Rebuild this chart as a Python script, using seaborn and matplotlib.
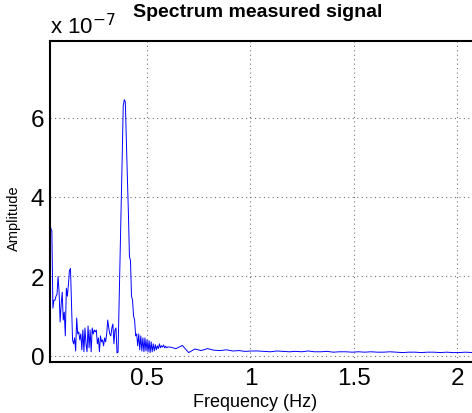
import numpy as np
import matplotlib
matplotlib.use("Agg")
import matplotlib.pyplot as plt
import seaborn as sns

# spectrum, low-frequency part (0.030 .. 0.600 Hz, step 0.005), amplitude in 1e-7
freq_low = np.round(np.arange(0.030, 0.6001, 0.005), 3)
amp_low = [
    3.40, 3.20, 3.15, 1.20, 1.40, 1.40, 1.50, 1.55, 2.00, 1.60,
    0.85, 1.30, 1.60, 0.90, 1.10, 0.50, 1.70, 1.50, 1.80, 2.15,
    2.20, 1.30, 0.40, 0.30, 0.45, 0.12, 0.95, 0.55, 0.60, 0.40,
    0.55, 0.15, 0.65, 0.10, 0.70, 0.30, 0.10, 0.75, 0.20, 0.65,
    0.10, 0.70, 0.55, 0.65, 0.60, 0.65, 0.30, 0.45, 0.10, 0.50,
    0.35, 0.40, 0.25, 0.45, 0.35, 0.55, 0.90, 0.70, 0.55, 0.50,
    0.70, 0.80, 0.30, 0.65, 0.70, 0.07, 0.09, 1.30, 2.50, 3.60,
    5.00, 6.30, 6.45, 6.40, 5.40, 4.50, 3.60, 2.50, 2.40, 1.50,
    1.40, 1.00, 0.90, 0.50, 0.55, 0.25, 0.55, 0.15, 0.50, 0.12,
    0.45, 0.10, 0.45, 0.12, 0.40, 0.10, 0.38, 0.08, 0.35, 0.10,
    0.30, 0.12, 0.28, 0.15, 0.25, 0.18, 0.30, 0.20, 0.25, 0.22,
    0.27, 0.20, 0.24, 0.20, 0.22,
]

# tail (0.61 .. 2.10 Hz)
freq_high = np.linspace(0.61, 2.10, 50)
amp_high = [
    0.22, 0.18, 0.26, 0.08, 0.17, 0.13, 0.18, 0.14, 0.13, 0.15,
    0.12, 0.13, 0.11, 0.12, 0.12, 0.11, 0.10, 0.12, 0.11, 0.10,
    0.11, 0.10, 0.12, 0.10, 0.10, 0.11, 0.09, 0.10, 0.10, 0.09,
    0.10, 0.09, 0.10, 0.09, 0.09, 0.10, 0.09, 0.08, 0.09, 0.09,
    0.08, 0.09, 0.09, 0.08, 0.09, 0.08, 0.08, 0.09, 0.08, 0.08,
]

freq = np.concatenate([freq_low, freq_high])
amp = np.concatenate([amp_low, amp_high])

x_ticks = [0.5, 1, 1.5, 2]
x_ticklabels = ["0.5", "1", "1.5", "2"]
y_ticks = [0, 2, 4, 6]

sns.set_style("white")
plt.rcParams["font.family"] = ["Liberation Sans", "DejaVu Sans"]

fig = plt.figure(figsize=(4.72, 4.14), dpi=100)
ax = fig.add_axes([50 / 472, 1 - 362.7 / 414, 428 / 472, (362.7 - 42) / 414])

sns.lineplot(x=freq, y=amp, ax=ax, color="blue", linewidth=0.7,
             estimator=None, sort=False)

ax.set_xlim(0.031, 2.10)
ax.set_ylim(-0.15, 7.93)
ax.set_xticks(x_ticks)
ax.set_xticklabels(x_ticklabels)
ax.set_yticks(y_ticks)
ax.tick_params(direction="in", length=5, width=1, labelsize=17.5, pad=4,
               colors="black")
ax.grid(True, linestyle=(0, (1, 3)), color="0.45", linewidth=0.8)
for s in ax.spines.values():
    s.set_linewidth(1.5)
    s.set_color("black")

ax.set_xlabel("Frequency (Hz)", fontsize=13, color="black")
ax.xaxis.set_label_coords(0.479, -0.098)
ax.set_ylabel("Amplitude", fontsize=10.5, color="black")
ax.yaxis.set_label_coords(-0.068, 0.451)
ax.set_title("Spectrum measured signal", fontsize=14, fontweight="bold",
             color="black", x=0.486, pad=18)
ax.text(0.0, 1.008, r"x 10$^{-7}$", transform=ax.transAxes, fontsize=16,
        ha="left", va="bottom", color="black")

fig.savefig("out.png", dpi=100)
